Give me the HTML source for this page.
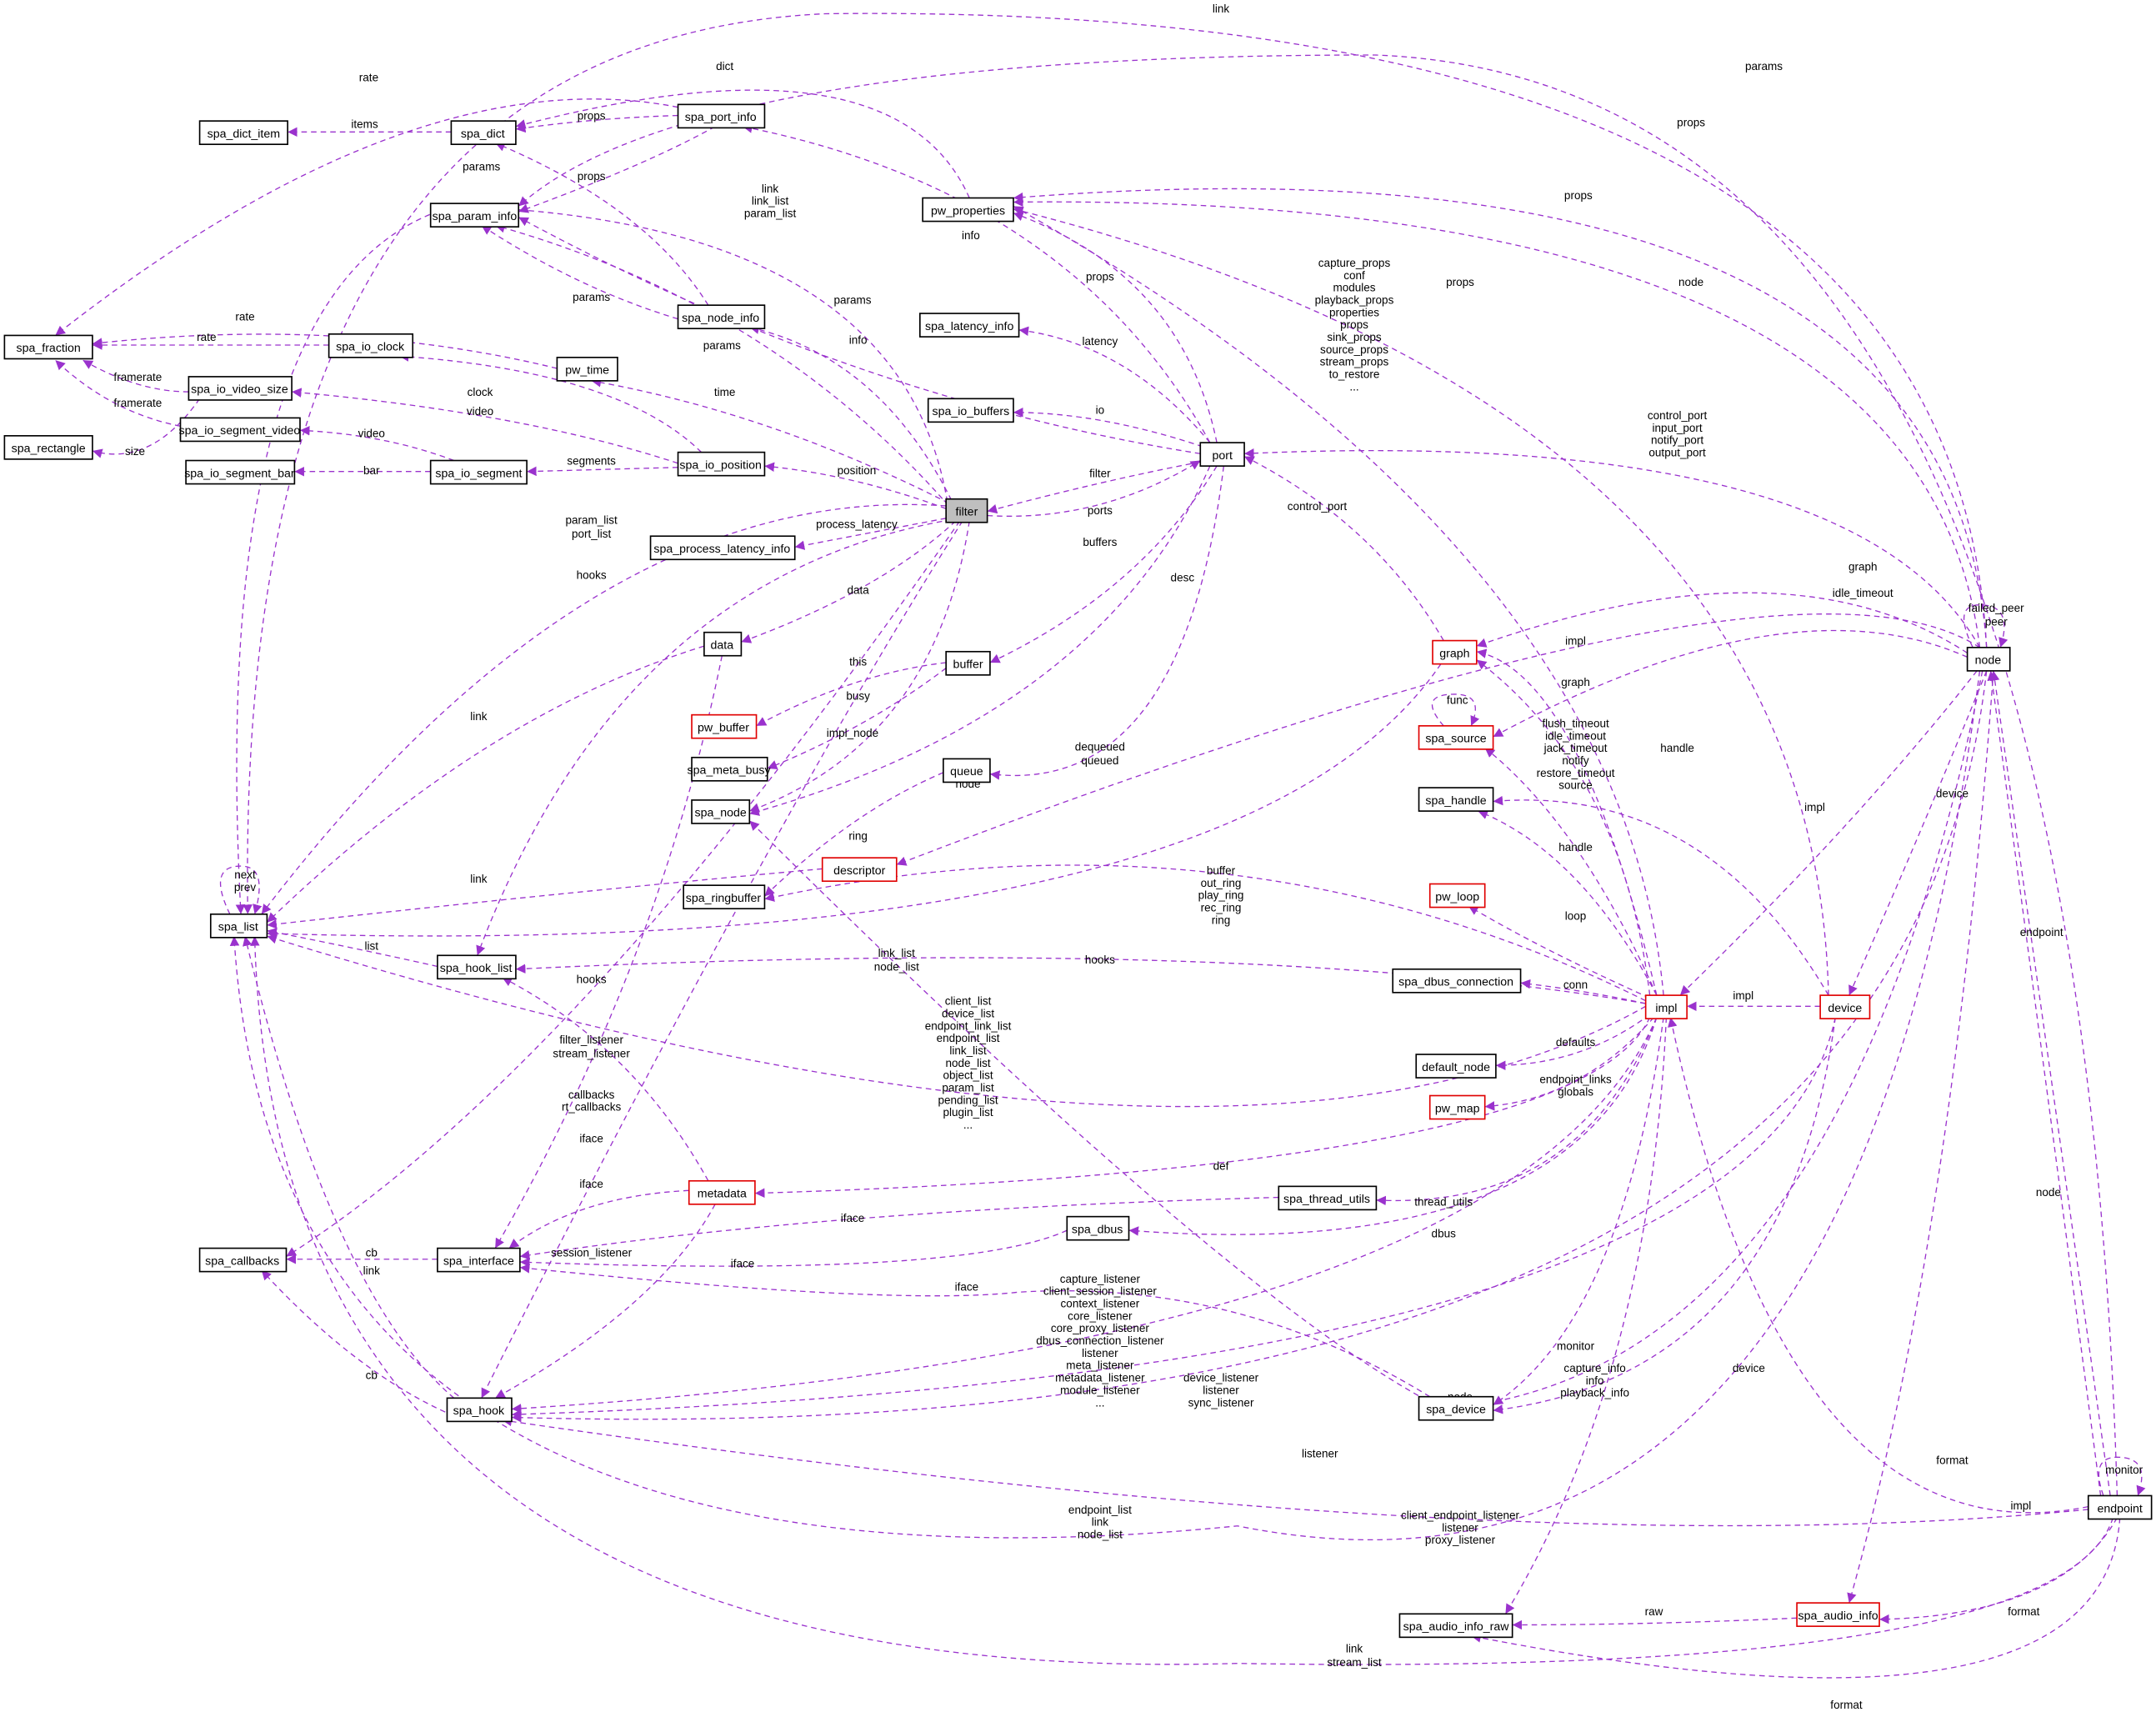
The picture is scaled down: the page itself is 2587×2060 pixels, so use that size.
<!DOCTYPE html>
<html><head><meta charset="utf-8"><style>
html,body{margin:0;padding:0;background:#fff;}
svg{display:block}
text{font-family:"Liberation Sans",Arial,sans-serif;}
.n rect{fill:#fff;stroke:#000;stroke-width:1}
.r rect{stroke:#e00000}
.n text{font-size:8.6px;text-anchor:middle}
.e{fill:none;stroke:#9a32cd;stroke-width:0.8;stroke-dasharray:4,3}
.l{font-size:8.2px;text-anchor:middle;fill:#000}
</style></head><body>
<svg width="2587" height="2060" viewBox="0 0 1568 1249" xmlns="http://www.w3.org/2000/svg">
<defs><marker id="a" markerWidth="8" markerHeight="8" refX="7" refY="4" orient="auto" markerUnits="userSpaceOnUse"><path d="M0,0.5 L7,4 L0,7.5z" fill="#9a32cd"/></marker></defs>
<rect width="1568" height="1249" fill="#fff"/>
<g marker-end="url(#a)">
<path class="e" d="M328,96 L209,96"/>
<path class="e" d="M493,84 Q430,86 375,94"/>
<path class="e" d="M493,78 Q300,40 40,244"/>
<path class="e" d="M705,144 Q650,20 375,92"/>
<path class="e" d="M515,222 Q470,150 360,104"/>
<path class="e" d="M520,92 Q470,120 377,154"/>
<path class="e" d="M493,232 Q420,210 350,164"/>
<path class="e" d="M690,368 Q560,220 360,164"/>
<path class="e" d="M873,330 Q620,290 377,158"/>
<path class="e" d="M690,372 Q660,160 330,150 Q150,200 175,665"/>
<path class="e" d="M239,251 L67,251"/>
<path class="e" d="M405,268 Q250,230 67,250"/>
<path class="e" d="M137,285 Q100,285 60,262"/>
<path class="e" d="M131,310 Q80,300 40,262"/>
<path class="e" d="M145,290 Q110,340 67,328"/>
<path class="e" d="M510,329 Q450,270 290,259"/>
<path class="e" d="M493,337 Q380,300 212,285"/>
<path class="e" d="M330,335 Q280,316 218,313"/>
<path class="e" d="M313,343 L214,343"/>
<path class="e" d="M493,340 L383,343"/>
<path class="e" d="M688,370 Q620,345 556,339"/>
<path class="e" d="M690,366 Q560,300 430,277"/>
<path class="e" d="M692,364 Q640,260 545,238"/>
<path class="e" d="M688,377 L578,398"/>
<path class="e" d="M688,368 Q430,350 190,665"/>
<path class="e" d="M692,378 Q450,420 347,695"/>
<path class="e" d="M695,379 Q640,430 539,467"/>
<path class="e" d="M700,379 Q560,600 350,1017"/>
<path class="e" d="M705,379 Q680,540 545,590"/>
<path class="e" d="M698,379 Q420,780 208,914"/>
<path class="e" d="M873,336 Q800,350 718,372"/>
<path class="e" d="M718,375 Q800,380 873,335"/>
<path class="e" d="M880,322 Q780,140 540,92"/>
<path class="e" d="M885,322 Q860,200 737,155"/>
<path class="e" d="M880,322 Q820,250 741,240"/>
<path class="e" d="M875,325 Q800,300 737,300"/>
<path class="e" d="M885,339 Q830,430 720,482"/>
<path class="e" d="M890,339 Q860,580 720,563"/>
<path class="e" d="M880,339 Q800,520 545,592"/>
<path class="e" d="M688,482 Q620,490 550,528"/>
<path class="e" d="M688,486 Q630,530 558,559"/>
<path class="e" d="M686,562 Q620,590 556,652"/>
<path class="e" d="M598,632 Q400,650 194,673"/>
<path class="e" d="M512,470 Q350,520 194,671"/>
<path class="e" d="M525,477 Q480,700 360,908"/>
<path class="e" d="M318,703 Q260,690 194,677"/>
<path class="e" d="M330,1017 Q240,940 178,681"/>
<path class="e" d="M330,1030 Q260,1000 190,924"/>
<path class="e" d="M318,916 L208,916"/>
<path class="e" d="M515,859 Q460,760 365,711"/>
<path class="e" d="M501,866 Q420,870 370,908"/>
<path class="e" d="M520,876 Q480,950 360,1017"/>
<path class="e" d="M167,665 Q150,630 175,630 Q195,630 185,665"/>
<path class="e" d="M1050,466 Q1000,380 905,332"/>
<path class="e" d="M1048,483 Q900,700 194,679"/>
<path class="e" d="M1431,475 Q1300,390 1074,470"/>
<path class="e" d="M1431,478 Q1300,420 1086,536"/>
<path class="e" d="M1440,471 Q1300,380 652,629"/>
<path class="e" d="M1050,528 Q1030,505 1058,505 Q1080,505 1070,528"/>
<path class="e" d="M1200,724 Q1180,560 1074,480"/>
<path class="e" d="M1205,724 Q1150,490 1074,474"/>
<path class="e" d="M1205,724 Q1150,600 1080,544"/>
<path class="e" d="M1205,724 Q1150,620 1075,590"/>
<path class="e" d="M1200,726 Q1120,690 1068,659"/>
<path class="e" d="M1197,730 Q1150,720 1106,715"/>
<path class="e" d="M1200,738 Q1150,775 1088,775"/>
<path class="e" d="M1203,740 Q1150,800 1080,805"/>
<path class="e" d="M1197,728 Q900,580 556,654"/>
<path class="e" d="M1197,730 Q900,680 375,705"/>
<path class="e" d="M1197,732 Q900,900 194,681"/>
<path class="e" d="M1200,740 Q1150,850 549,868"/>
<path class="e" d="M1205,740 Q1150,880 1001,873"/>
<path class="e" d="M1205,740 Q1150,920 821,895"/>
<path class="e" d="M1205,740 Q1100,980 372,1025"/>
<path class="e" d="M1210,740 Q1180,960 1086,1022"/>
<path class="e" d="M1212,740 Q1200,1000 1095,1174"/>
<path class="e" d="M1210,724 Q1180,400 737,150"/>
<path class="e" d="M930,871 Q600,880 378,914"/>
<path class="e" d="M776,895 Q700,930 378,918"/>
<path class="e" d="M1040,1016 Q900,930 740,940 Q650,950 378,922"/>
<path class="e" d="M1324,732 L1227,732"/>
<path class="e" d="M1330,724 Q1240,570 1086,583"/>
<path class="e" d="M1330,724 Q1320,300 737,152"/>
<path class="e" d="M1335,740 Q1300,1000 1086,1026"/>
<path class="e" d="M1335,740 Q1280,1000 372,1029"/>
<path class="e" d="M1445,488 Q1400,600 1345,724"/>
<path class="e" d="M1438,488 Q1350,600 1222,724"/>
<path class="e" d="M1440,471 Q1350,310 905,330"/>
<path class="e" d="M1440,471 Q1400,140 737,147"/>
<path class="e" d="M1445,471 Q1420,90 737,144"/>
<path class="e" d="M1435,471 Q1420,440 1440,440 Q1465,440 1455,471"/>
<path class="e" d="M1445,471 Q1420,0 600,10 Q170,30 180,665"/>
<path class="e" d="M1540,1088 Q1510,60 1000,40 Q500,40 377,150"/>
<path class="e" d="M1535,1088 Q1480,700 1450,488"/>
<path class="e" d="M1528,1088 Q1490,800 1448,488"/>
<path class="e" d="M1530,1088 Q1520,1060 1540,1060 Q1565,1060 1555,1088"/>
<path class="e" d="M1519,1096 Q1300,1140 1215,740"/>
<path class="e" d="M1450,488 Q1420,900 1345,1166"/>
<path class="e" d="M1540,1104 Q1500,1175 1367,1178"/>
<path class="e" d="M1307,1177 Q1200,1182 1100,1182"/>
<path class="e" d="M1542,1104 Q1530,1280 1070,1190"/>
<path class="e" d="M1537,1104 Q1500,1220 900,1210 Q200,1230 185,681"/>
<path class="e" d="M1519,1098 Q1100,1140 365,1033"/>
<path class="e" d="M1445,488 Q1380,1060 372,1031"/>
<path class="e" d="M1440,488 Q1350,1200 900,1110 Q200,1180 170,681"/>
<path class="e" d="M1442,488 Q1340,1000 1050,1025 Q900,950 545,597"/>
</g>
<g class="l">
<text x="265" y="93">items</text><text x="430" y="87">props</text><text x="268" y="59">rate</text><text x="527" y="51">dict</text>
<text x="430" y="131">props</text><text x="350" y="124">params</text><text x="430" y="219">params</text><text x="525" y="254">params</text><text x="620" y="221">params</text>
<text x="560" y="140">link</text><text x="560" y="149">link_list</text><text x="560" y="158">param_list</text>
<text x="150" y="248">rate</text><text x="178" y="233">rate</text><text x="100" y="277">framerate</text><text x="100" y="296">framerate</text><text x="98" y="331">size</text>
<text x="349" y="288">clock</text><text x="349" y="302">video</text><text x="270" y="318">video</text><text x="270" y="345">bar</text><text x="430" y="338">segments</text>
<text x="623" y="345">position</text><text x="527" y="288">time</text><text x="624" y="250">info</text><text x="623" y="384">process_latency</text>
<text x="430" y="381">param_list</text><text x="430" y="391">port_list</text><text x="430" y="421">hooks</text><text x="624" y="432">data</text>
<text x="430" y="759">filter_listener</text><text x="430" y="769">stream_listener</text><text x="620" y="536">impl_node</text>
<text x="430" y="799">callbacks</text><text x="430" y="808">rt_callbacks</text>
<text x="800" y="347">filter</text><text x="800" y="374">ports</text><text x="706" y="174">info</text><text x="800" y="204">props</text><text x="800" y="251">latency</text><text x="800" y="301">io</text><text x="800" y="397">buffers</text>
<text x="800" y="546">dequeued</text><text x="800" y="556">queued</text><text x="704" y="573">node</text>
<text x="624" y="484">this</text><text x="624" y="509">busy</text><text x="624" y="611">ring</text><text x="348" y="642">link</text><text x="348" y="524">link</text>
<text x="430" y="831">iface</text><text x="270" y="691">list</text><text x="270" y="927">link</text><text x="270" y="1003">cb</text><text x="270" y="914">cb</text>
<text x="430" y="715">hooks</text><text x="430" y="864">iface</text><text x="430" y="914">session_listener</text>
<text x="178" y="639">next</text><text x="178" y="648">prev</text>
<text x="958" y="371">control_port</text><text x="652" y="696">link_list</text><text x="652" y="706">node_list</text>
<text x="1355" y="415">graph</text><text x="1355" y="434">idle_timeout</text><text x="860" y="423">desc</text><text x="1060" y="512">func</text>
<text x="1146" y="499">graph</text><text x="1146" y="469">impl</text>
<text x="1146" y="529">flush_timeout</text><text x="1146" y="538">idle_timeout</text><text x="1146" y="547">jack_timeout</text><text x="1146" y="556">notify</text><text x="1146" y="565">restore_timeout</text><text x="1146" y="574">source</text>
<text x="1146" y="619">handle</text><text x="1146" y="669">loop</text><text x="1146" y="719">conn</text><text x="1146" y="761">defaults</text>
<text x="1146" y="788">endpoint_links</text><text x="1146" y="797">globals</text>
<text x="888" y="636">buffer</text><text x="888" y="645">out_ring</text><text x="888" y="654">play_ring</text><text x="888" y="663">rec_ring</text><text x="888" y="672">ring</text>
<text x="800" y="701">hooks</text>
<text x="704" y="731">client_list</text><text x="704" y="740">device_list</text><text x="704" y="749">endpoint_link_list</text><text x="704" y="758">endpoint_list</text><text x="704" y="767">link_list</text><text x="704" y="776">node_list</text><text x="704" y="785">object_list</text><text x="704" y="794">param_list</text><text x="704" y="803">pending_list</text><text x="704" y="812">plugin_list</text><text x="704" y="821">...</text>
<text x="888" y="851">def</text><text x="1050" y="877">thread_utils</text><text x="1050" y="900">dbus</text>
<text x="800" y="933">capture_listener</text><text x="800" y="942">client_session_listener</text><text x="800" y="951">context_listener</text><text x="800" y="960">core_listener</text><text x="800" y="969">core_proxy_listener</text><text x="800" y="978">dbus_connection_listener</text><text x="800" y="987">listener</text><text x="800" y="996">meta_listener</text><text x="800" y="1005">metadata_listener</text><text x="800" y="1014">module_listener</text><text x="800" y="1023">...</text>
<text x="1146" y="982">monitor</text>
<text x="985" y="194">capture_props</text><text x="985" y="203">conf</text><text x="985" y="212">modules</text><text x="985" y="221">playback_props</text><text x="985" y="230">properties</text><text x="985" y="239">props</text><text x="985" y="248">sink_props</text><text x="985" y="257">source_props</text><text x="985" y="266">stream_props</text><text x="985" y="275">to_restore</text><text x="985" y="284">...</text>
<text x="620" y="889">iface</text><text x="703" y="939">iface</text><text x="540" y="922">iface</text>
<text x="1268" y="727">impl</text><text x="1220" y="547">handle</text><text x="1062" y="208">props</text><text x="1272" y="998">device</text>
<text x="888" y="1005">device_listener</text><text x="888" y="1014">listener</text><text x="888" y="1023">sync_listener</text>
<text x="1420" y="580">device</text><text x="1320" y="590">impl</text>
<text x="1220" y="305">control_port</text><text x="1220" y="314">input_port</text><text x="1220" y="323">notify_port</text><text x="1220" y="332">output_port</text>
<text x="1148" y="145">props</text><text x="1230" y="92">props</text><text x="1230" y="208">node</text>
<text x="1452" y="445">failed_peer</text><text x="1452" y="455">peer</text><text x="888" y="9">link</text><text x="1283" y="51">params</text>
<text x="1485" y="681">endpoint</text><text x="1490" y="870">node</text><text x="1545" y="1072">monitor</text><text x="1470" y="1098">impl</text>
<text x="1420" y="1065">format</text><text x="1472" y="1175">format</text><text x="1203" y="1175">raw</text><text x="1343" y="1243">format</text>
<text x="985" y="1202">link</text><text x="985" y="1212">stream_list</text>
<text x="1062" y="1105">client_endpoint_listener</text><text x="1062" y="1114">listener</text><text x="1062" y="1123">proxy_listener</text>
<text x="960" y="1060">listener</text><text x="800" y="1101">endpoint_list</text><text x="800" y="1110">link</text><text x="800" y="1119">node_list</text>
<text x="1062" y="1019">node</text>
<text x="1160" y="998">capture_info</text><text x="1160" y="1007">info</text><text x="1160" y="1016">playback_info</text>
</g>
<g class="n">
<rect x="3" y="244" width="64" height="17"/><text x="35" y="256">spa_fraction</text>
<rect x="3" y="317" width="64" height="17"/><text x="35" y="329">spa_rectangle</text>
<rect x="145" y="88" width="64" height="17"/><text x="177" y="100">spa_dict_item</text>
<rect x="328" y="88" width="47" height="17"/><text x="351" y="100">spa_dict</text>
<rect x="493" y="76" width="63" height="17"/><text x="524" y="88">spa_port_info</text>
<rect x="313" y="148" width="64" height="17"/><text x="345" y="160">spa_param_info</text>
<rect x="671" y="144" width="66" height="17"/><text x="704" y="156">pw_properties</text>
<rect x="239" y="243" width="61" height="17"/><text x="269" y="255">spa_io_clock</text>
<rect x="493" y="222" width="63" height="17"/><text x="524" y="234">spa_node_info</text>
<rect x="669" y="228" width="72" height="17"/><text x="705" y="240">spa_latency_info</text>
<rect x="405" y="260" width="44" height="17"/><text x="427" y="272">pw_time</text>
<rect x="137" y="274" width="75" height="17"/><text x="174" y="286">spa_io_video_size</text>
<rect x="131" y="304" width="87" height="17"/><text x="174" y="316">spa_io_segment_video</text>
<rect x="675" y="290" width="62" height="17"/><text x="706" y="302">spa_io_buffers</text>
<rect x="873" y="322" width="32" height="17"/><text x="889" y="334">port</text>
<rect x="135" y="335" width="79" height="17"/><text x="174" y="347">spa_io_segment_bar</text>
<rect x="313" y="335" width="70" height="17"/><text x="348" y="347">spa_io_segment</text>
<rect x="493" y="329" width="63" height="17"/><text x="524" y="341">spa_io_position</text>
<rect x="688" y="363" width="30" height="17" style="fill:#bfbfbf"/><text x="703" y="375">filter</text>
<rect x="473" y="390" width="105" height="17"/><text x="525" y="402">spa_process_latency_info</text>
<rect x="512" y="460" width="27" height="17"/><text x="525" y="472">data</text>
<rect x="688" y="474" width="32" height="17"/><text x="704" y="486">buffer</text>
<g class="r"><rect x="503" y="520" width="47" height="17"/></g><text x="526" y="532">pw_buffer</text>
<rect x="503" y="551" width="55" height="17"/><text x="530" y="563">spa_meta_busy</text>
<rect x="686" y="552" width="34" height="17"/><text x="703" y="564">queue</text>
<rect x="503" y="582" width="42" height="17"/><text x="524" y="594">spa_node</text>
<g class="r"><rect x="598" y="624" width="54" height="17"/></g><text x="625" y="636">descriptor</text>
<rect x="497" y="644" width="59" height="17"/><text x="526" y="656">spa_ringbuffer</text>
<rect x="153" y="665" width="41" height="17"/><text x="173" y="677">spa_list</text>
<rect x="318" y="695" width="57" height="17"/><text x="346" y="707">spa_hook_list</text>
<g class="r"><rect x="1042" y="466" width="32" height="17"/></g><text x="1058" y="478">graph</text>
<g class="r"><rect x="1032" y="528" width="54" height="17"/></g><text x="1059" y="540">spa_source</text>
<rect x="1032" y="573" width="54" height="17"/><text x="1059" y="585">spa_handle</text>
<g class="r"><rect x="1040" y="643" width="40" height="17"/></g><text x="1060" y="655">pw_loop</text>
<rect x="1013" y="705" width="93" height="17"/><text x="1059" y="717">spa_dbus_connection</text>
<g class="r"><rect x="1197" y="724" width="30" height="17"/></g><text x="1212" y="736">impl</text>
<g class="r"><rect x="1324" y="724" width="36" height="17"/></g><text x="1342" y="736">device</text>
<rect x="1030" y="767" width="58" height="17"/><text x="1059" y="779">default_node</text>
<g class="r"><rect x="1040" y="797" width="40" height="17"/></g><text x="1060" y="809">pw_map</text>
<g class="r"><rect x="501" y="859" width="48" height="17"/></g><text x="525" y="871">metadata</text>
<rect x="930" y="863" width="71" height="17"/><text x="965" y="875">spa_thread_utils</text>
<rect x="776" y="885" width="45" height="17"/><text x="798" y="897">spa_dbus</text>
<rect x="145" y="908" width="63" height="17"/><text x="176" y="920">spa_callbacks</text>
<rect x="318" y="908" width="60" height="17"/><text x="348" y="920">spa_interface</text>
<rect x="325" y="1017" width="47" height="17"/><text x="348" y="1029">spa_hook</text>
<rect x="1032" y="1016" width="54" height="17"/><text x="1059" y="1028">spa_device</text>
<rect x="1431" y="471" width="31" height="17"/><text x="1446" y="483">node</text>
<rect x="1519" y="1088" width="46" height="17"/><text x="1542" y="1100">endpoint</text>
<g class="r"><rect x="1307" y="1166" width="60" height="17"/></g><text x="1337" y="1178">spa_audio_info</text>
<rect x="1018" y="1174" width="82" height="17"/><text x="1059" y="1186">spa_audio_info_raw</text>
</g>
</svg>
</body></html>
